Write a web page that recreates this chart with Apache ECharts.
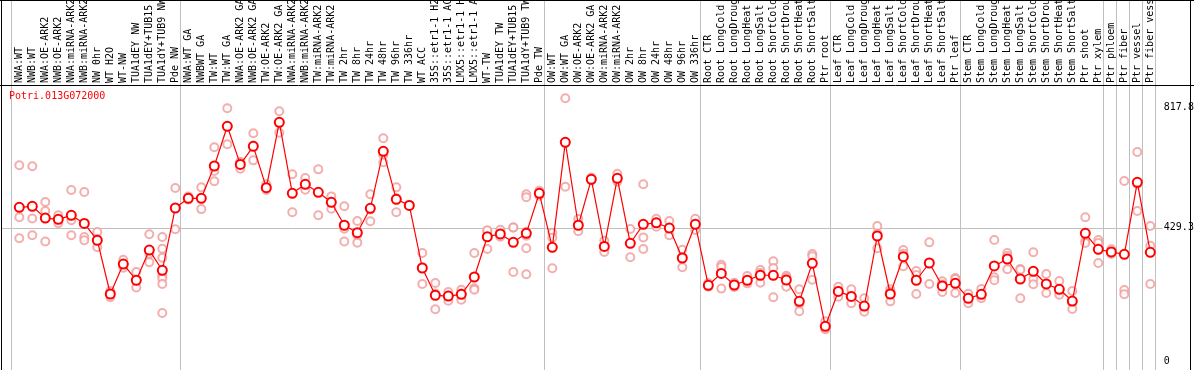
<!DOCTYPE html>
<html><head><meta charset="utf-8">
<script src="https://cdn.jsdelivr.net/npm/echarts@6/dist/echarts.min.js"></script>
<style>html,body{margin:0;padding:0;background:#fff}#c{width:1194px;height:370px}</style>
</head><body><div id="c"></div>
<script>
const geneId = 'Potri.013G072000';
const categories = ['NWA:WT','NWB:WT','NWA:OE-ARK2','NWB:OE-ARK2','NWA:miRNA-ARK2','NWB:miRNA-ARK2','NW 0hr','WT H2O','WT-NW','TUA1dEY NW','TUA1dEY+TUB15 NW','TUA1dY+TUB9 NW','Pde NW',
'NWA:WT GA','NWBWT GA','TW:WT','TW:WT GA','NWA:OE-ARK2 GA','NWB:OE-ARK2 GA','TW:OE-ARK2','TW:OE-ARK2 GA','NWA:miRNA-ARK2','NWB:miRNA-ARK2','TW:miRNA-ARK2','TW:miRNA-ARK2','TW 2hr','TW 8hr','TW 24hr','TW 48hr','TW 96hr','TW 336hr','WT ACC','35S::etr1-1 H2O','35S::etr1-1 ACC','LMX5::etr1-1 H2O','LMX5::etr1-1 ACC','WT-TW','TUA1dEY TW','TUA1dEY+TUB15 TW','TUA1dY+TUB9 TW','Pde TW',
'OW:WT','OW:WT GA','OW:OE-ARK2','OW:OE-ARK2 GA','OW:miRNA-ARK2','OW:miRNA-ARK2','OW 2hr','OW 8hr','OW 24hr','OW 48hr','OW 96hr','OW 336hr',
'Root CTR','Root LongCold','Root LongDrought','Root LongHeat','Root LongSalt','Root ShortCold','Root ShortDrought','Root ShortHeat','Root ShortSalt','Ptr root',
'Leaf CTR','Leaf LongCold','Leaf LongDrought','Leaf LongHeat','Leaf LongSalt','Leaf ShortCold','Leaf ShortDrought','Leaf ShortHeat','Leaf ShortSalt','Ptr leaf',
'Stem CTR','Stem LongCold','Stem LongDrought','Stem LongHeat','Stem LongSalt','Stem ShortCold','Stem ShortDrought','Stem ShortHeat','Stem ShortSalt','Ptr shoot','Ptr xylem',
'Ptr phloem','Ptr fiber','Ptr vessel','Ptr fiber vessel'];
const means = [494.8,498,460,456,469,443,388.6,215.7,312,260,357,292,492.6,
523.8,523.8,627.8,755.6,633,691,558,768.5,540,569,543,511,437,413,491.6,675,520.6,501,299.4,211.5,209,214.7,270.4,400,409,382,411,540,
366,704,437,585,369,588,379,440,445,428,331.6,440,
243.7,282,244.7,260,276,276,260.8,192,314.5,111.7,
224,208,177,402.4,215.7,335.8,260,315.5,241.5,250,
201.9,214.7,305.9,328.4,264,288.8,248,230.8,193,411,359.6,
351,343.5,575.3,350];
const replicates = [[630,462.6,395],[627,459,404.6],[512,483,385],[469,455,444],[550.5,453,404.6],[544,399,388.6],[415,393,366],[225,216,205],[326,312,300],[286.5,260,237],[408,345,318],[399,361.6,332.7,274.7,266,248,154.5],[557,424],
[530,520,521],[559,523,489],[688,611.7,578.6],[813.6,755.5,697.7],[640.7,640,619],[733,694,646],[569,555,550.5],[804,766,735],[601,540,478.7],[589,566,551.5],[617,543,469],[530,513,490],[498,426,385],[450.7,404.6,381],[536.7,488,449.8],[717,663,640],[559,524,478.7],[503,501,499],[347.7,302,248],[251,217,166.5],[222,211,194],[229.6,217,197.4],[347.7,234,229.5],[418.5,421,360.6],[422.7,404,400],[430,429.5,286.5],[536.7,527,416,403.4,362.8,279],[548,532],
[413,397,298.5],[845.8,705,561],[457,436,417.6],[591,582.7,582],[387,369,351],[603,585,577],[425,378,334],[569,398,360.6],[458,445,432],[450.7,429,404.6],[358,335,301.7],[458,440,422],
[251,241,239],[310,303,233],[252,244,238],[273.7,256,250],[293,283,252],[321,299.4,205],[274.6,269,239],[230.8,184.5,160],[344.5,337,261.7],[127.8,105,102],
[239,226,207],[230.8,208,185.8],[201.9,171,158.7],[434.6,410,362.8],[230.8,224,192],[357,345,304.8],[289.8,276.9,215.7],[382,316,248],[256.6,246,222],[267,264,219],
[216.7,203,185.8],[231.8,210,201.9],[389.6,269.5,259.8],[347.7,338,295.2],[296,294,201.9],[350,264,247],[280,245,219],[257.6,222,213.5],[225.4,187,167.4],[462.6,387.3,380],[389.6,379.9,315.5],
[359.6,349,344.5],[579.5,228.6,214.7],[673,570,483],[434.6,371,248]];
const yTickValues = [0, 429.3, 817.8];
const refLineValue = 429.3;
const groupStarts = [0,13,41,53,63,73,84,85,86,87,88];

const repPoints = [];
replicates.forEach((arr, i) => arr.forEach(v => repPoints.push([i, v])));

const FONT = 'DejaVu Sans Mono';
const chart = echarts.init(document.getElementById('c'), null, {renderer: 'canvas'});
chart.setOption({
  animation: false,
  backgroundColor: '#fff',
  grid: {left: 12.8, right: 37.2, top: 85, bottom: 0, containLabel: false, outerBoundsMode: 'none'},
  title: {text: geneId, left: 9, top: 91, padding: 0,
    textStyle: {fontFamily: FONT, fontSize: 10, fontWeight: 'normal', color: '#ff0000'}},
  xAxis: [{
    type: 'category', position: 'top', data: categories, boundaryGap: true,
    axisLine: {show: false}, axisTick: {show: false}, splitLine: {show: false},
    axisLabel: {rotate: 90, interval: 0, margin: 2, fontFamily: FONT, fontSize: 10, color: '#000'}
  }],
  yAxis: [{
    type: 'value', position: 'right', min: -29, max: 888.6,
    axisLine: {show: false}, axisTick: {show: false}, splitLine: {show: false},
    axisLabel: {customValues: yTickValues, margin: 7, fontFamily: FONT, fontSize: 10, color: '#000',
      formatter: v => String(v)}
  }],
  series: [
    {type: 'scatter', data: repPoints, symbol: 'emptyCircle', symbolSize: 8,
      itemStyle: {color: '#f09a9a', borderColor: '#f09a9a', borderWidth: 1.2}, z: 2},
    {type: 'line', data: means, symbol: 'emptyCircle', symbolSize: 9, showAllSymbol: true,
      lineStyle: {color: '#ff0000', width: 1.2},
      itemStyle: {color: '#ff0000', borderColor: '#ff0000', borderWidth: 1.6}, z: 3}
  ]
});

function px(i){ return chart.convertToPixel({xAxisIndex: 0}, i); }
const step = px(1) - px(0);
const yRef = chart.convertToPixel({yAxisIndex: 0}, refLineValue);
const gline = (x1,y1,x2,y2,color) => ({type: 'line', silent: true, z: 0,
  shape: {x1, y1, x2, y2}, style: {stroke: color, lineWidth: 1}});
const graphics = [];
groupStarts.forEach(b => {
  const x = Math.round(px(0) + (b - 0.615) * step) + 0.5;
  graphics.push(gline(x, 0, x, 370, '#c0c0c0'));
});
const yr = Math.round(yRef) + 0.5;
graphics.push(gline(1, yr, px(87) + step * 0.95, yr, '#c0c0c0'));
graphics.push(gline(0, 0.5, 1194, 0.5, '#000'));
graphics.push(gline(0, 85.5, 1194, 85.5, '#000'));
graphics.push(gline(1.5, 0, 1.5, 370, '#000'));
graphics.push(gline(1190.5, 0, 1190.5, 370, '#000'));
chart.setOption({graphic: graphics});
</script>
</body></html>
